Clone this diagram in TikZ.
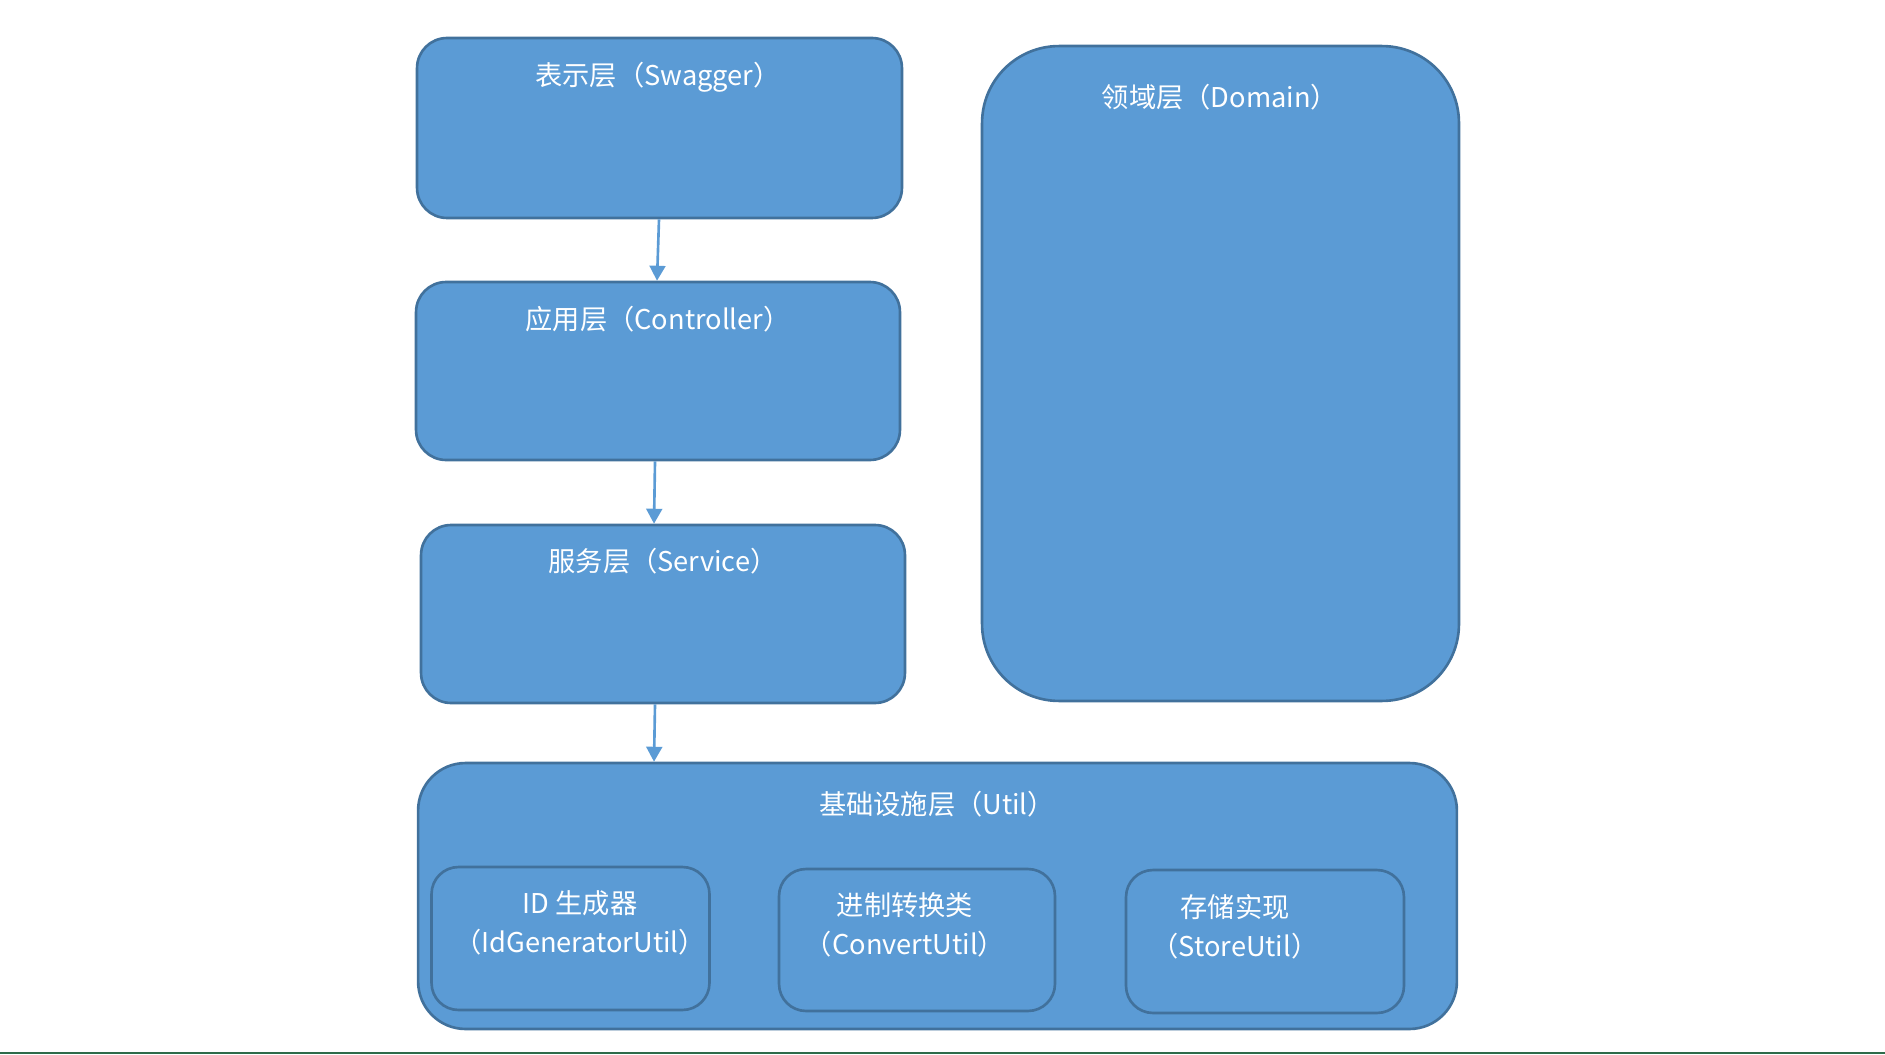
\documentclass[tikz,border=0pt]{standalone}
\usepackage{fontspec}
\setmainfont{Noto Sans CJK SC}
\usepackage{tikz}
\usetikzlibrary{positioning,arrows.meta}

\definecolor{layerfill}{HTML}{5B9BD5}
\definecolor{layerline}{HTML}{41719C}
\definecolor{arrowblue}{HTML}{5B9BD5}
\definecolor{edgegreen}{HTML}{2E6B4A}

\begin{document}
\begin{tikzpicture}[x=0.02cm,y=-0.02cm,
    layerbox/.style={rectangle, rounded corners=0.6cm, draw=layerline, fill=layerfill, line width=1.5pt},
    utilbox/.style={rectangle, rounded corners=0.54cm, draw=layerline, fill=layerfill, line width=1.5pt},
    layertext/.style={text=white, font=\fontsize{15.5}{22}\selectfont, inner sep=0pt, align=center},
    flow/.style={draw=arrowblue, line width=1.5pt, -{Triangle[width=9pt,length=8.5pt]}},]
            \useasboundingbox (0,0) rectangle (1885,1054);

            %Nodes
            \node[layerbox, minimum width=9.7cm, minimum height=3.6cm](swagger) at (659.5,128){};
            \node[layerbox, minimum width=9.68cm, minimum height=3.56cm](controller) at (658,371){};
            \node[layerbox, minimum width=9.68cm, minimum height=3.56cm](service) at (663,614){};
            \node[layerbox, rounded corners=1.54cm, minimum width=9.54cm, minimum height=13.1cm](domain) at (1220.5,373.5){};
            \node[layerbox, rounded corners=0.95cm, minimum width=20.78cm, minimum height=5.32cm](util) at (937.5,896){};
            \node[utilbox, minimum width=5.56cm, minimum height=2.86cm](idgen) at (570.5,938.5){};
            \node[utilbox, minimum width=5.52cm, minimum height=2.84cm](convert) at (917,940){};
            \node[utilbox, minimum width=5.56cm, minimum height=2.86cm](store) at (1265,941.5){};

            %Texts
            \node[layertext](swaggertext) at (658,77){表示层（Swagger）};
            \node[layertext](controllertext) at (658,319){应用层（Controller）};
            \node[layertext](servicetext) at (663,561){服务层（Service）};
            \node[layertext](domaintext) at (1220,97){领域层（Domain）};
            \node[layertext](utiltext) at (937,804){基础设施层（Util）};
            \node[layertext](idgentext) at (580,923){ID 生成器\\（IdGeneratorUtil）};
            \node[layertext](converttext) at (905,925){进制转换类\\（ConvertUtil）};
            \node[layertext](storetext) at (1235,927){存储实现\\（StoreUtil）};

            %Lines
            \draw[flow]([xshift=-0.01cm]swagger.south)--([xshift=-0.02cm]controller.north);
            \draw[flow]([xshift=-0.06cm]controller.south)--([xshift=-0.18cm]service.north);
            \draw[flow]([xshift=-0.16cm]service.south)--(util.north -| service.south -| 654,0);

            %Bottom edge
            \draw[edgegreen, line width=1.2pt](0,1053)--(1885,1053);
        \end{tikzpicture}
\end{document}
